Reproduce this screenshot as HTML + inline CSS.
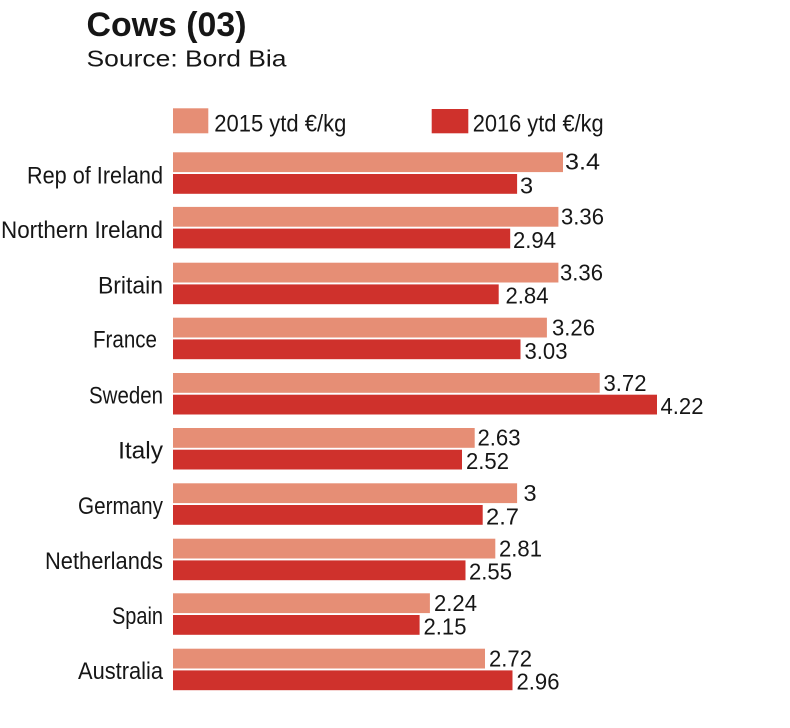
<!DOCTYPE html>
<html>
<head>
<meta charset="utf-8">
<style>
html,body{margin:0;padding:0;background:#fff;}
svg{display:block;}
text{font-family:"Liberation Sans",sans-serif;fill:#161616;}
.v{font-size:23.5px;}
.c{font-size:24.5px;}
</style>
</head>
<body>
<svg width="790" height="728" viewBox="0 0 790 728" xmlns="http://www.w3.org/2000/svg">
<rect x="0" y="0" width="790" height="728" fill="#fff"/>
<text x="86.5" y="36" font-size="34" font-weight="bold" textLength="160" lengthAdjust="spacingAndGlyphs">Cows (03)</text>
<text x="86.5" y="66.7" font-size="23" textLength="200" lengthAdjust="spacingAndGlyphs">Source: Bord Bia</text>

<rect x="173" y="108.3" width="35.3" height="25" fill="#E68E75"/>
<text x="214.3" y="131.3" font-size="24.5" textLength="132" lengthAdjust="spacingAndGlyphs">2015 ytd €/kg</text>
<rect x="431.7" y="109" width="36.6" height="24.3" fill="#CF312C"/>
<text x="472.7" y="131.3" font-size="24.5" textLength="131" lengthAdjust="spacingAndGlyphs">2016 ytd €/kg</text>

<!-- Rep of Ireland -->
<rect x="173" y="152.3" width="390" height="19.8" fill="#E68E75"/>
<rect x="173" y="174" width="344.1" height="19.8" fill="#CF312C"/>
<text class="c" x="163" y="183.3" text-anchor="end" textLength="136" lengthAdjust="spacingAndGlyphs">Rep of Ireland</text>
<text class="v" x="565" y="169.5" textLength="35" lengthAdjust="spacingAndGlyphs">3.4</text>
<text class="v" x="520" y="193.3">3</text>

<!-- Northern Ireland -->
<rect x="173" y="206.9" width="385.4" height="19.8" fill="#E68E75"/>
<rect x="173" y="228.6" width="337.2" height="19.8" fill="#CF312C"/>
<text class="c" x="163" y="237.8" text-anchor="end" textLength="162" lengthAdjust="spacingAndGlyphs">Northern Ireland</text>
<text class="v" x="561" y="224.4" textLength="43" lengthAdjust="spacingAndGlyphs">3.36</text>
<text class="v" x="513" y="248" textLength="43" lengthAdjust="spacingAndGlyphs">2.94</text>

<!-- Britain -->
<rect x="173" y="262.7" width="385.4" height="19.8" fill="#E68E75"/>
<rect x="173" y="284.4" width="325.7" height="19.8" fill="#CF312C"/>
<text class="c" x="163" y="293.3" text-anchor="end" textLength="65" lengthAdjust="spacingAndGlyphs">Britain</text>
<text class="v" x="560" y="280.7" textLength="43" lengthAdjust="spacingAndGlyphs">3.36</text>
<text class="v" x="505.5" y="303.5" textLength="43" lengthAdjust="spacingAndGlyphs">2.84</text>

<!-- France -->
<rect x="173" y="317.7" width="373.9" height="19.8" fill="#E68E75"/>
<rect x="173" y="339.4" width="347.5" height="19.8" fill="#CF312C"/>
<text class="c" x="157" y="347.7" text-anchor="end" textLength="64" lengthAdjust="spacingAndGlyphs">France</text>
<text class="v" x="552" y="335.5" textLength="43" lengthAdjust="spacingAndGlyphs">3.26</text>
<text class="v" x="524.5" y="358.8" textLength="43" lengthAdjust="spacingAndGlyphs">3.03</text>

<!-- Sweden -->
<rect x="173" y="373" width="426.7" height="19.8" fill="#E68E75"/>
<rect x="173" y="394.7" width="484" height="19.8" fill="#CF312C"/>
<text class="c" x="163" y="403.3" text-anchor="end" textLength="74" lengthAdjust="spacingAndGlyphs">Sweden</text>
<text class="v" x="603.5" y="390.8" textLength="43" lengthAdjust="spacingAndGlyphs">3.72</text>
<text class="v" x="660.5" y="414" textLength="43" lengthAdjust="spacingAndGlyphs">4.22</text>

<!-- Italy -->
<rect x="173" y="428" width="301.7" height="19.8" fill="#E68E75"/>
<rect x="173" y="449.7" width="289" height="19.8" fill="#CF312C"/>
<text class="c" x="163" y="458.5" text-anchor="end">Italy</text>
<text class="v" x="477.5" y="445.7" textLength="43" lengthAdjust="spacingAndGlyphs">2.63</text>
<text class="v" x="466" y="469" textLength="43" lengthAdjust="spacingAndGlyphs">2.52</text>

<!-- Germany -->
<rect x="173" y="483.3" width="344.1" height="19.8" fill="#E68E75"/>
<rect x="173" y="505" width="309.7" height="19.8" fill="#CF312C"/>
<text class="c" x="163" y="513.8" text-anchor="end" textLength="85" lengthAdjust="spacingAndGlyphs">Germany</text>
<text class="v" x="523.5" y="501">3</text>
<text class="v" x="486" y="524.3" textLength="33" lengthAdjust="spacingAndGlyphs">2.7</text>

<!-- Netherlands -->
<rect x="173" y="538.7" width="322.3" height="19.8" fill="#E68E75"/>
<rect x="173" y="560.4" width="292.5" height="19.8" fill="#CF312C"/>
<text class="c" x="163" y="569.2" text-anchor="end" textLength="118" lengthAdjust="spacingAndGlyphs">Netherlands</text>
<text class="v" x="499" y="556.4" textLength="43" lengthAdjust="spacingAndGlyphs">2.81</text>
<text class="v" x="469" y="579.7" textLength="43" lengthAdjust="spacingAndGlyphs">2.55</text>

<!-- Spain -->
<rect x="173" y="593.3" width="256.9" height="19.8" fill="#E68E75"/>
<rect x="173" y="615" width="246.6" height="19.8" fill="#CF312C"/>
<text class="c" x="163" y="623.8" text-anchor="end" textLength="51" lengthAdjust="spacingAndGlyphs">Spain</text>
<text class="v" x="434" y="611" textLength="43" lengthAdjust="spacingAndGlyphs">2.24</text>
<text class="v" x="423.5" y="634.3" textLength="43" lengthAdjust="spacingAndGlyphs">2.15</text>

<!-- Australia -->
<rect x="173" y="648.7" width="312" height="19.8" fill="#E68E75"/>
<rect x="173" y="670.4" width="339.5" height="19.8" fill="#CF312C"/>
<text class="c" x="163" y="679.2" text-anchor="end" textLength="85" lengthAdjust="spacingAndGlyphs">Australia</text>
<text class="v" x="489" y="666.4" textLength="43" lengthAdjust="spacingAndGlyphs">2.72</text>
<text class="v" x="516.5" y="689.7" textLength="43" lengthAdjust="spacingAndGlyphs">2.96</text>
</svg>
</body>
</html>
